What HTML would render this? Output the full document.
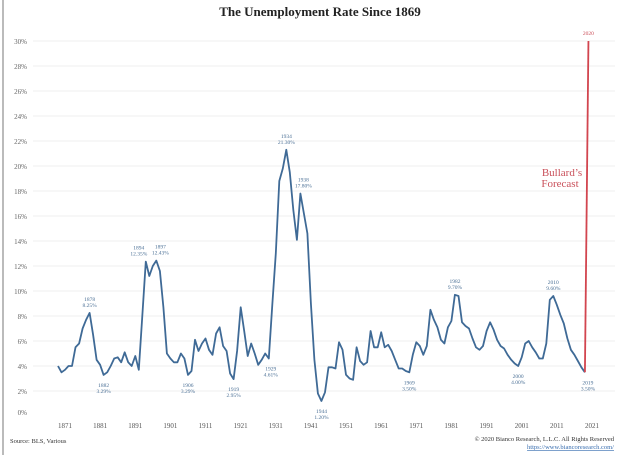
<!DOCTYPE html>
<html><head><meta charset="utf-8"><style>
html,body{margin:0;padding:0;background:#fff;}
body{width:640px;height:455px;overflow:hidden;position:relative;font-family:"Liberation Serif",serif;}
svg{position:absolute;left:0;top:0;}
</style></head><body>
<svg id="chart" width="640" height="455" viewBox="0 0 640 455">
<rect x="2" y="0" width="2" height="455" fill="#bbb"/>
<text x="320" y="16" text-anchor="middle" font-size="13" font-weight="bold" fill="#222">The Unemployment Rate Since 1869</text>
<g id="grid"></g><g id="yticks"></g><g id="xticks"></g><g id="series"></g><g id="annots"></g>
<text x="562" y="176" text-anchor="middle" font-size="11" fill="#c9505a">Bullard’s</text>
<text x="560" y="187" text-anchor="middle" font-size="11" fill="#c9505a">Forecast</text>
<text x="10" y="443" font-size="6.5" fill="#333">Source: BLS, Various</text>
<text x="614" y="441" text-anchor="end" font-size="6.5" fill="#333">© 2020 Bianco Research, L.L.C. All Rights Reserved</text>
<text x="614" y="449" text-anchor="end" font-size="6.5" fill="#3a6fb0" text-decoration="underline">https://www.biancoresearch.com/</text>
</svg>
<script>
const startYear = 1869;
const rates = [4.0,3.5,3.7,4.0,4.0,5.5,5.8,7.0,7.7,8.25,6.5,4.5,4.1,3.29,3.5,4.0,4.6,4.7,4.3,5.1,4.3,4.0,4.8,3.7,8.0,12.35,11.2,12.0,12.43,11.6,8.7,5.0,4.6,4.3,4.3,5.0,4.6,3.29,3.6,6.1,5.2,5.8,6.2,5.3,4.9,6.6,7.1,5.6,5.2,3.4,2.95,5.2,8.7,6.8,4.8,5.8,5.0,4.1,4.5,5.0,4.6,8.9,13.0,18.8,19.8,21.3,19.5,16.5,14.1,17.8,16.2,14.6,9.0,4.5,1.8,1.2,1.9,3.9,3.9,3.8,5.9,5.3,3.3,3.0,2.9,5.5,4.4,4.1,4.3,6.8,5.5,5.5,6.7,5.5,5.7,5.2,4.5,3.8,3.8,3.6,3.5,4.9,5.9,5.6,4.9,5.6,8.5,7.7,7.1,6.1,5.8,7.1,7.6,9.7,9.6,7.5,7.2,7.0,6.2,5.5,5.3,5.6,6.8,7.5,6.9,6.1,5.6,5.4,4.9,4.5,4.2,4.0,4.7,5.8,6.0,5.5,5.1,4.6,4.6,5.8,9.3,9.6,8.9,8.1,7.4,6.2,5.3,4.9,4.4,3.9,3.5];
const forecastYears = [2019, 2020];
const forecastRates = [3.5, 30];
const yTicks = [0,2,4,6,8,10,12,14,16,18,20,22,24,26,28,30];
const xTicks = [1871,1881,1891,1901,1911,1921,1931,1941,1951,1961,1971,1981,1991,2001,2011,2021];
const annotYears = [1878,1882,1894,1897,1906,1919,1929,1934,1938,1944,1969,1982,2000,2010,2019];
const annotLabels = ["8.25%","3.29%","12.35%","12.43%","3.29%","2.95%","4.61%","21.30%","17.80%","1.20%","3.50%","9.70%","4.00%","9.60%","3.50%"];
const annotAbove = [true,false,true,true,false,false,false,true,true,false,false,true,false,true,false];
const annotShift = [0,0,-7,4,0,0,2,0,3,0,0,0,0,0,3];

const NS="http://www.w3.org/2000/svg";
const xs = y => 65 + (y-1871)*3.513;
const ys = v => 416 - v*12.5;
function mk(tag, attrs, parent){const e=document.createElementNS(NS,tag);for(const k in attrs)e.setAttribute(k,attrs[k]);document.getElementById(parent).appendChild(e);return e;}

yTicks.forEach(t=>{
  if(t>0){const l=mk('line',{x1:33,x2:615,y1:ys(t),y2:ys(t),stroke:'#efefef','stroke-width':1},'grid');
  
  }
  const tx=mk('text',{x:27,y:(t===0?412:ys(t))+3,'text-anchor':'end','font-size':7,fill:'#666'},'yticks');
  tx.textContent=t+'%';
  
  
});
xTicks.forEach(t=>{
  const tx=mk('text',{x:xs(t),y:428,'text-anchor':'middle','font-size':7,fill:'#555'},'xticks');
  tx.textContent=t;
  
  
});
const pts = rates.map((v,i)=>xs(startYear+i).toFixed(1)+','+ys(v).toFixed(1)).join(' ');
const line=mk('polyline',{points:pts,fill:'none',stroke:'#3f6a96','stroke-width':1.8,'stroke-linejoin':'round'},'series');


const fl=mk('polyline',{points:forecastYears.map((y,i)=>xs(y)+','+ys(forecastRates[i])).join(' '),fill:'none',stroke:'#d2454f','stroke-width':1.8},'series');


const fy=mk('text',{x:xs(2020),y:ys(30)-6,'text-anchor':'middle','font-size':5.5,fill:'#c94a55'},'annots');
fy.textContent='2020';


annotYears.forEach((y,i)=>{
  const v=rates[y-startYear];
  const x=xs(y)+annotShift[i];
  const base=annotAbove[i]? ys(v)-12 : ys(v)+12;
  const a=mk('text',{x:x,y:base,'text-anchor':'middle','font-size':5.5,fill:'#4a6f95'},'annots');
  a.textContent=y;
  
  
  const b=mk('text',{x:x,y:base+6,'text-anchor':'middle','font-size':5.5,fill:'#4a6f95'},'annots');
  b.textContent=annotLabels[i];
  
  
});
</script>
</body></html>
